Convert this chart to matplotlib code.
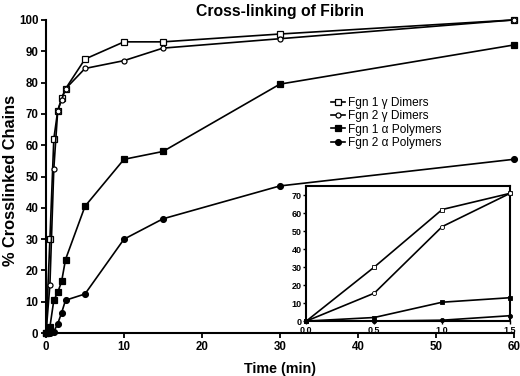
import matplotlib.pyplot as plt
import numpy as np

plt.rcParams['font.family'] = ['Liberation Sans', 'DejaVu Sans']

# time points (min)
time = [0, 0.5, 1, 1.5, 2, 2.5, 5, 10, 15, 30, 60]

fgn1_gamma = [0, 30, 62, 71, 75, 78, 87.5, 93, 93, 95.5, 100]
fgn2_gamma = [0, 15.5, 52.5, 71, 74.5, 78, 84.5, 87, 91, 94, 100]
fgn1_alpha = [0, 2, 10.5, 13, 16.5, 23.5, 40.5, 55.5, 58, 79.5, 92]
fgn2_alpha = [0, 0, 0.5, 3, 6.5, 10.5, 12.5, 30, 36.5, 47, 55.5]

labels = ["Fgn 1 γ Dimers", "Fgn 2 γ Dimers",
          "Fgn 1 α Polymers", "Fgn 2 α Polymers"]
series = [fgn1_gamma, fgn2_gamma, fgn1_alpha, fgn2_alpha]
markers = ['s', 'o', 's', 'o']
faces = ['white', 'white', 'black', 'black']
msizes = [5, 3.6, 4.8, 4.2]

fig = plt.figure(figsize=(5.2, 3.76), dpi=100)
ax1 = fig.add_axes([0.0885, 0.114, 0.8995, 0.833])

for y, lab, m, fc, ms in zip(series, labels, markers, faces, msizes):
    ax1.plot(time, y, color='black', lw=1.2, marker=m, mfc=fc, mec='black',
             ms=ms, mew=0.9, label=lab, clip_on=False, zorder=3)

ax1.set_xlim(0, 60)
ax1.set_ylim(0, 100)
ax1.set_xticks([0, 10, 20, 30, 40, 50, 60])
ax1.set_yticks(np.arange(0, 101, 10))
ax1.spines['top'].set_visible(False)
ax1.spines['right'].set_visible(False)
ax1.spines['left'].set_linewidth(1.5)
ax1.spines['bottom'].set_linewidth(1.5)
ax1.tick_params(width=1.3, length=3.5, labelsize=8.3, pad=2)
for t in ax1.get_xticklabels() + ax1.get_yticklabels():
    t.set_fontweight('bold')
ax1.set_xlabel("Time (min)", fontsize=10.3, fontweight='bold', va='top')
ax1.xaxis.set_label_coords(0.5, -0.093)
ax1.set_ylabel("% Crosslinked Chains", fontsize=11.8, fontweight='bold')
ax1.yaxis.set_label_coords(-0.06, 0.489)
ax1.set_title("Cross-linking of Fibrin", fontsize=11.3, fontweight='bold', pad=3)

leg = ax1.legend(loc='upper left', bbox_to_anchor=(0.60, 0.77), frameon=False,
                 fontsize=8.6, handlelength=1.1, handletextpad=0.3,
                 labelspacing=0.12, borderaxespad=0)

# inset, first 1.5 min
ax2 = fig.add_axes([0.589, 0.146, 0.392, 0.359])
for y, m, fc in zip(series, markers, faces):
    ax2.plot(time[:4], y[:4], color='black', lw=1.2, marker=m, mfc=fc,
             mec='black', ms=3, mew=0.6, clip_on=False, zorder=3)
ax2.set_xlim(0, 1.5)
ax2.set_ylim(0, 75)
ax2.set_xticks([0, 0.5, 1.0, 1.5])
ax2.set_xticklabels(['0.0', '0.5', '1.0', '1.5'])
ax2.set_yticks(np.arange(0, 71, 10))
for s in ax2.spines.values():
    s.set_linewidth(1.5)
ax2.tick_params(width=1, length=2.5, labelsize=6.5, pad=1)
for t in ax2.get_xticklabels() + ax2.get_yticklabels():
    t.set_fontweight('bold')

fig.savefig('out.png', dpi=100)
